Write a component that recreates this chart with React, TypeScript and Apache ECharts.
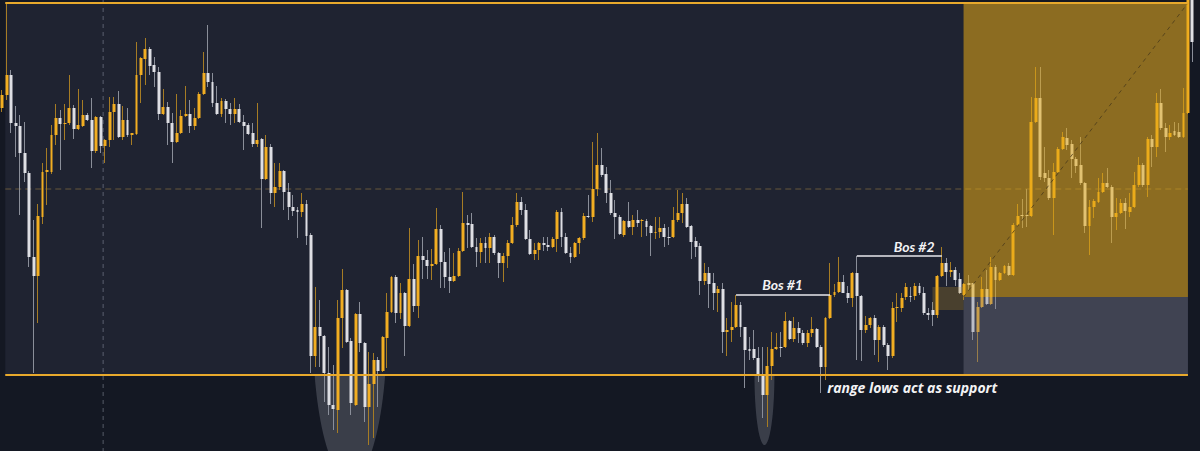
import React, { useEffect, useRef } from "react";
import * as echarts from "echarts";

// ---- candle data (price units) ----
const OPEN = [
  343, 356, 376, 328, 325, 298, 278, 194, 175, 234, 279, 279, 316, 333, 327, 328, 343, 322, 325, 336,
  331, 300, 334, 305, 311, 339, 347, 314, 331, 316, 317, 376, 392, 402, 386, 379, 337, 344, 328, 309,
  318, 335, 337, 325, 333, 357, 378, 369, 348, 337, 350, 342, 337, 342, 329, 326, 318, 307, 312, 272,
  304, 258, 264, 280, 259, 244, 241, 239, 247, 216, 95, 124, 115, 78, 46, 41, 133, 161, 110, 46,
  137, 108, 44, 67, 91, 80, 113, 139, 174, 138, 158, 125, 172, 145, 195, 191, 185, 187, 222, 189,
  174, 170, 175, 200, 228, 227, 204, 199, 208, 203, 214, 198, 188, 195, 208, 226, 249, 241, 212, 197,
  201, 208, 206, 204, 212, 239, 214, 198, 194, 208, 213, 235, 234, 262, 286, 277, 258, 238, 234, 216,
  230, 224, 231, 230, 230, 225, 218, 219, 223, 214, 214, 231, 238, 247, 225, 210, 205, 170, 178, 168,
  158, 162, 119, 121, 124, 146, 124, 102, 102, 93, 76, 56, 85, 102, 104, 104, 130, 112, 123, 118,
  108, 118, 122, 104, 84, 133, 156, 159, 169, 158, 153, 178, 155, 121, 126, 133, 111, 124, 106, 95,
  143, 143, 154, 155, 155, 165, 158, 138, 141, 136, 175, 188, 179, 181, 172, 156, 168, 168, 119, 144,
  162, 147, 184, 171, 178, 185, 176, 226, 236, 236, 235, 329, 353, 278, 273, 253, 279, 302, 313, 307,
  292, 286, 268, 225, 244, 249, 259, 268, 264, 234, 238, 248, 239, 244, 266, 286, 266, 312, 304, 348,
  323, 314, 320, 319, 314, 338, 480,
];
const CLOSE = [
  356, 376, 328, 325, 298, 278, 194, 175, 235, 279, 281, 316, 333, 327, 328, 343, 322, 326, 336, 331,
  300, 334, 305, 311, 339, 347, 314, 331, 316, 318, 376, 393, 402, 385, 379, 337, 344, 328, 309, 318,
  335, 337, 325, 333, 357, 378, 369, 348, 337, 350, 342, 337, 342, 329, 325, 317, 307, 311, 272, 304,
  258, 264, 280, 259, 244, 240, 239, 247, 215, 95, 124, 115, 78, 46, 42, 133, 161, 109, 48, 137,
  108, 44, 67, 91, 80, 114, 139, 174, 138, 158, 125, 172, 145, 195, 191, 185, 187, 222, 189, 174,
  170, 175, 200, 228, 226, 204, 199, 208, 203, 214, 198, 188, 195, 208, 226, 249, 241, 212, 197, 201,
  208, 206, 204, 212, 239, 214, 198, 194, 208, 213, 235, 234, 262, 286, 276, 258, 238, 234, 217, 230,
  224, 231, 228, 231, 224, 218, 219, 223, 214, 213, 231, 238, 247, 224, 209, 204, 170, 178, 167, 158,
  162, 119, 121, 124, 146, 124, 101, 100, 93, 76, 56, 85, 102, 104, 103, 130, 112, 123, 118, 108,
  118, 122, 104, 84, 133, 156, 159, 169, 158, 153, 178, 155, 121, 126, 133, 111, 124, 106, 95, 143,
  144, 153, 164, 154, 165, 158, 138, 136, 136, 175, 188, 179, 181, 171, 158, 167, 166, 119, 144, 162,
  147, 184, 171, 178, 185, 176, 226, 235, 235, 235, 329, 353, 274, 273, 253, 279, 302, 314, 306, 292,
  285, 268, 225, 244, 250, 259, 268, 264, 234, 238, 248, 240, 244, 266, 286, 266, 312, 304, 348, 323,
  314, 318, 316, 314, 338, 470, 409,
];
const LOW = [
  339, 351, 318, 294, 236, 269, 184, 78, 128, 227, 246, 277, 306, 281, 311, 326, 312, 321, 324, 330,
  283, 298, 298, 288, 304, 311, 313, 311, 314, 306, 316, 348, 366, 376, 364, 331, 336, 306, 288, 308,
  317, 334, 318, 321, 332, 356, 364, 344, 336, 334, 328, 326, 328, 328, 301, 316, 304, 304, 223, 271,
  247, 244, 261, 241, 231, 235, 213, 234, 206, 78, 84, 84, 49, 36, 21, 18, 103, 108, 36, 45,
  99, 29, 6, 13, 44, 79, 83, 138, 128, 132, 95, 124, 139, 133, 172, 172, 171, 186, 163, 163,
  158, 169, 174, 199, 203, 203, 184, 188, 188, 188, 196, 173, 169, 183, 207, 224, 236, 211, 196, 191,
  191, 200, 200, 203, 199, 204, 197, 188, 193, 197, 211, 233, 229, 255, 274, 248, 236, 212, 216, 214,
  223, 216, 224, 214, 215, 195, 212, 213, 204, 206, 213, 229, 228, 223, 192, 194, 156, 166, 143, 141,
  139, 98, 95, 109, 123, 114, 63, 91, 91, 69, 33, 24, 71, 101, 94, 103, 111, 109, 108, 106,
  104, 114, 103, 58, 71, 132, 154, 158, 158, 148, 144, 91, 90, 118, 123, 96, 89, 104, 81, 93,
  129, 139, 151, 149, 151, 156, 136, 131, 125, 133, 174, 165, 174, 165, 157, 151, 161, 111, 89, 143,
  146, 146, 142, 170, 177, 175, 175, 224, 223, 224, 234, 328, 271, 269, 251, 216, 278, 301, 301, 273,
  278, 266, 218, 196, 233, 248, 258, 263, 208, 221, 237, 222, 234, 243, 264, 264, 254, 284, 294, 321,
  299, 311, 315, 313, 313, 337, 389,
];
const HIGH = [
  361, 448, 381, 345, 336, 329, 280, 231, 247, 288, 303, 326, 347, 341, 347, 376, 346, 362, 351, 338,
  353, 335, 335, 312, 354, 354, 360, 345, 343, 318, 409, 394, 413, 404, 394, 384, 362, 349, 338, 357,
  341, 365, 351, 343, 359, 399, 426, 378, 365, 353, 352, 348, 353, 347, 336, 328, 328, 348, 313, 316,
  307, 288, 288, 281, 268, 256, 244, 258, 251, 218, 164, 151, 116, 104, 86, 151, 182, 162, 113, 138,
  149, 109, 99, 98, 94, 115, 158, 175, 176, 168, 159, 223, 187, 211, 214, 201, 202, 243, 226, 199,
  203, 198, 203, 259, 236, 238, 213, 213, 214, 218, 216, 199, 198, 211, 234, 258, 254, 247, 221, 208,
  209, 214, 214, 214, 241, 243, 218, 204, 209, 214, 238, 256, 309, 318, 303, 284, 271, 251, 236, 231,
  249, 236, 241, 232, 232, 226, 234, 234, 227, 224, 244, 261, 258, 253, 226, 214, 208, 188, 184, 178,
  165, 168, 133, 149, 156, 149, 124, 114, 121, 104, 104, 104, 119, 118, 119, 139, 131, 134, 129, 121,
  121, 134, 123, 106, 134, 188, 167, 194, 176, 165, 179, 195, 156, 135, 134, 136, 126, 126, 108, 149,
  158, 158, 168, 164, 168, 168, 164, 143, 149, 176, 204, 193, 189, 184, 178, 168, 176, 168, 149, 174,
  181, 194, 186, 179, 186, 188, 228, 247, 252, 262, 354, 384, 384, 304, 281, 288, 304, 319, 323, 311,
  294, 314, 269, 251, 252, 273, 278, 283, 266, 253, 252, 253, 258, 279, 294, 288, 314, 316, 358, 362,
  328, 326, 329, 328, 363, 480, 490,
];

// ---- annotation anchors (candle index / price) ----
const RANGE_HIGH = 448;
const RANGE_LOW = 76;
const RANGE_MID = 262;
const RANGE_FROM = 0.67;
const RANGE_TO = 265;
const ENTRY = 154;
const TARGET = 448;
const STOP = 76;
const POS_FROM = 214.85;
const ZONE_FROM = 207.9;
const ZONE_TOP = 164;
const ZONE_BOTTOM = 141;
const CROSSHAIR_AT = 22.55;
const BOS1 = { from: 164, to: 185, price: 156, label: "Bos #1", labelAt: 174.4, labelPrice: 167 };
const BOS2 = { from: 191, to: 210, price: 195, label: "Bos #2", labelAt: 203.8, labelPrice: 205 };
const NOTE = { text: "range lows act as support", at: 184.4, price: 64 };
const DIPS = [
  { at: 77.7, price: 121, halfCandles: 8.26, halfPrice: 150 },
  { at: 170.35, price: 76, halfCandles: 2.23, halfPrice: 70 },
];

const UP = "#f2ae22";
const DOWN = "#dedfe4";
const WICK_UP = "#a67c24";
const WICK_DOWN = "#8a8e99";
const GOLD = "#e8a92c";

export default function App() {
  const ref = useRef<HTMLDivElement>(null);

  useEffect(() => {
    document.body.style.margin = "0";
    document.body.style.background = "#141823";
    const el = ref.current!;
    const chart = echarts.init(el, null, { renderer: "svg" });

    const ohlc = OPEN.map((o, i) => [o, CLOSE[i], LOW[i], HIGH[i]]);
    const bodies = OPEN.map((o, i) => [o, CLOSE[i], Math.min(o, CLOSE[i]), Math.max(o, CLOSE[i])]);

    chart.setOption({
      animation: false,
      backgroundColor: "#141823",
      grid: { left: -1.24, top: 0, width: 1195.9, height: 451 },
      xAxis: { type: "category", show: false, boundaryGap: true },
      yAxis: { type: "value", show: false, min: 0, max: 451, splitLine: { show: false } },
      series: [
        {
          type: "candlestick",
          data: ohlc,
          barWidth: 1,
          z: 2,
          silent: true,
          itemStyle: { color: WICK_UP, color0: WICK_DOWN, borderColor: WICK_UP, borderColor0: WICK_DOWN, borderWidth: 1 },
        },
        {
          type: "candlestick",
          data: bodies,
          barWidth: 3.4,
          z: 3,
          silent: true,
          itemStyle: { color: UP, color0: DOWN, borderColor: UP, borderColor0: DOWN, borderWidth: 0 },
        },
      ],
    });

    const xa = chart.convertToPixel({ xAxisIndex: 0 }, 0) as number;
    const xb = chart.convertToPixel({ xAxisIndex: 0 }, 1) as number;
    const step = xb - xa;
    const X = (i: number) => xa + i * step;
    const Y = (p: number) => chart.convertToPixel({ yAxisIndex: 0 }, p) as number;

    const textStyle = (text: string, fill: string, family: string) => ({
      text,
      fill,
      fontSize: 14,
      fontWeight: "bold",
      fontStyle: "italic",
      fontFamily: family,
    });

    const graphic: any[] = [];
    DIPS.forEach((d) => {
      graphic.push({
        type: "ellipse",
        silent: true,
        z: -3,
        shape: { cx: X(d.at), cy: Y(d.price), rx: d.halfCandles * step, ry: Y(0) - Y(d.halfPrice) },
        style: { fill: "rgba(150,155,170,0.29)" },
      });
    });
    graphic.push(
      {
        type: "rect",
        silent: true,
        z: -2,
        shape: { x: X(RANGE_FROM), y: Y(RANGE_HIGH), width: X(RANGE_TO) - X(RANGE_FROM), height: Y(RANGE_LOW) - Y(RANGE_HIGH) },
        style: { fill: "#1f2331" },
      },
      {
        type: "line",
        silent: true,
        z: -1,
        shape: { x1: X(CROSSHAIR_AT), y1: Y(451), x2: X(CROSSHAIR_AT), y2: Y(0) },
        style: { stroke: "rgba(140,145,160,0.55)", lineWidth: 1, lineDash: [4, 4] },
      },
      {
        type: "line",
        silent: true,
        z: -1,
        shape: { x1: X(RANGE_FROM), y1: Y(RANGE_MID), x2: X(RANGE_TO), y2: Y(RANGE_MID) },
        style: { stroke: "rgba(190,150,70,0.45)", lineWidth: 1, lineDash: [6, 4] },
      },
      {
        type: "rect",
        silent: true,
        z: 5,
        shape: { x: X(POS_FROM), y: Y(TARGET), width: X(RANGE_TO) - X(POS_FROM), height: Y(ENTRY) - Y(TARGET) },
        style: { fill: "rgba(230,170,20,0.55)" },
      },
      {
        type: "rect",
        silent: true,
        z: 5,
        shape: { x: X(POS_FROM), y: Y(ENTRY), width: X(RANGE_TO) - X(POS_FROM), height: Y(STOP) - Y(ENTRY) },
        style: { fill: "rgba(125,130,145,0.35)" },
      },
      {
        type: "rect",
        silent: true,
        z: 5,
        shape: { x: X(ZONE_FROM), y: Y(ZONE_TOP), width: X(POS_FROM) - X(ZONE_FROM), height: Y(ZONE_BOTTOM) - Y(ZONE_TOP) },
        style: { fill: "rgba(200,150,40,0.25)" },
      },
      {
        type: "line",
        silent: true,
        z: 6,
        shape: { x1: X(POS_FROM), y1: Y(ENTRY), x2: X(RANGE_TO), y2: Y(TARGET) },
        style: { stroke: "rgba(70,55,25,0.75)", lineWidth: 1, lineDash: [4, 4] },
      },
      {
        type: "line",
        silent: true,
        z: 8,
        shape: { x1: X(RANGE_FROM), y1: Y(RANGE_HIGH), x2: X(RANGE_TO), y2: Y(RANGE_HIGH) },
        style: { stroke: GOLD, lineWidth: 2 },
      },
      {
        type: "line",
        silent: true,
        z: 8,
        shape: { x1: X(RANGE_FROM), y1: Y(RANGE_LOW), x2: X(RANGE_TO), y2: Y(RANGE_LOW) },
        style: { stroke: GOLD, lineWidth: 2 },
      }
    );
    [BOS1, BOS2].forEach((b) => {
      graphic.push(
        {
          type: "line",
          silent: true,
          z: 8,
          shape: { x1: X(b.from), y1: Y(b.price), x2: X(b.to), y2: Y(b.price) },
          style: { stroke: "#e8e8ec", lineWidth: 1.5 },
        },
        {
          type: "text",
          silent: true,
          z: 9,
          x: X(b.labelAt),
          y: Y(b.labelPrice),
          style: { ...textStyle(b.label, "#f2f2f4", "Lato, 'Open Sans', sans-serif"), align: "center", verticalAlign: "middle", textAlign: "center", textVerticalAlign: "middle" },
        }
      );
    });
    graphic.push({
      type: "text",
      silent: true,
      z: 9,
      x: X(NOTE.at),
      y: Y(NOTE.price),
      style: { ...textStyle(NOTE.text, "#f2f2f4", "'Open Sans', Lato, sans-serif"), align: "left", verticalAlign: "middle", textAlign: "left", textVerticalAlign: "middle" },
    });

    chart.setOption({ graphic });

    return () => chart.dispose();
  }, []);

  return <div ref={ref} style={{ width: 1200, height: 451, background: "#141823" }} />;
}
